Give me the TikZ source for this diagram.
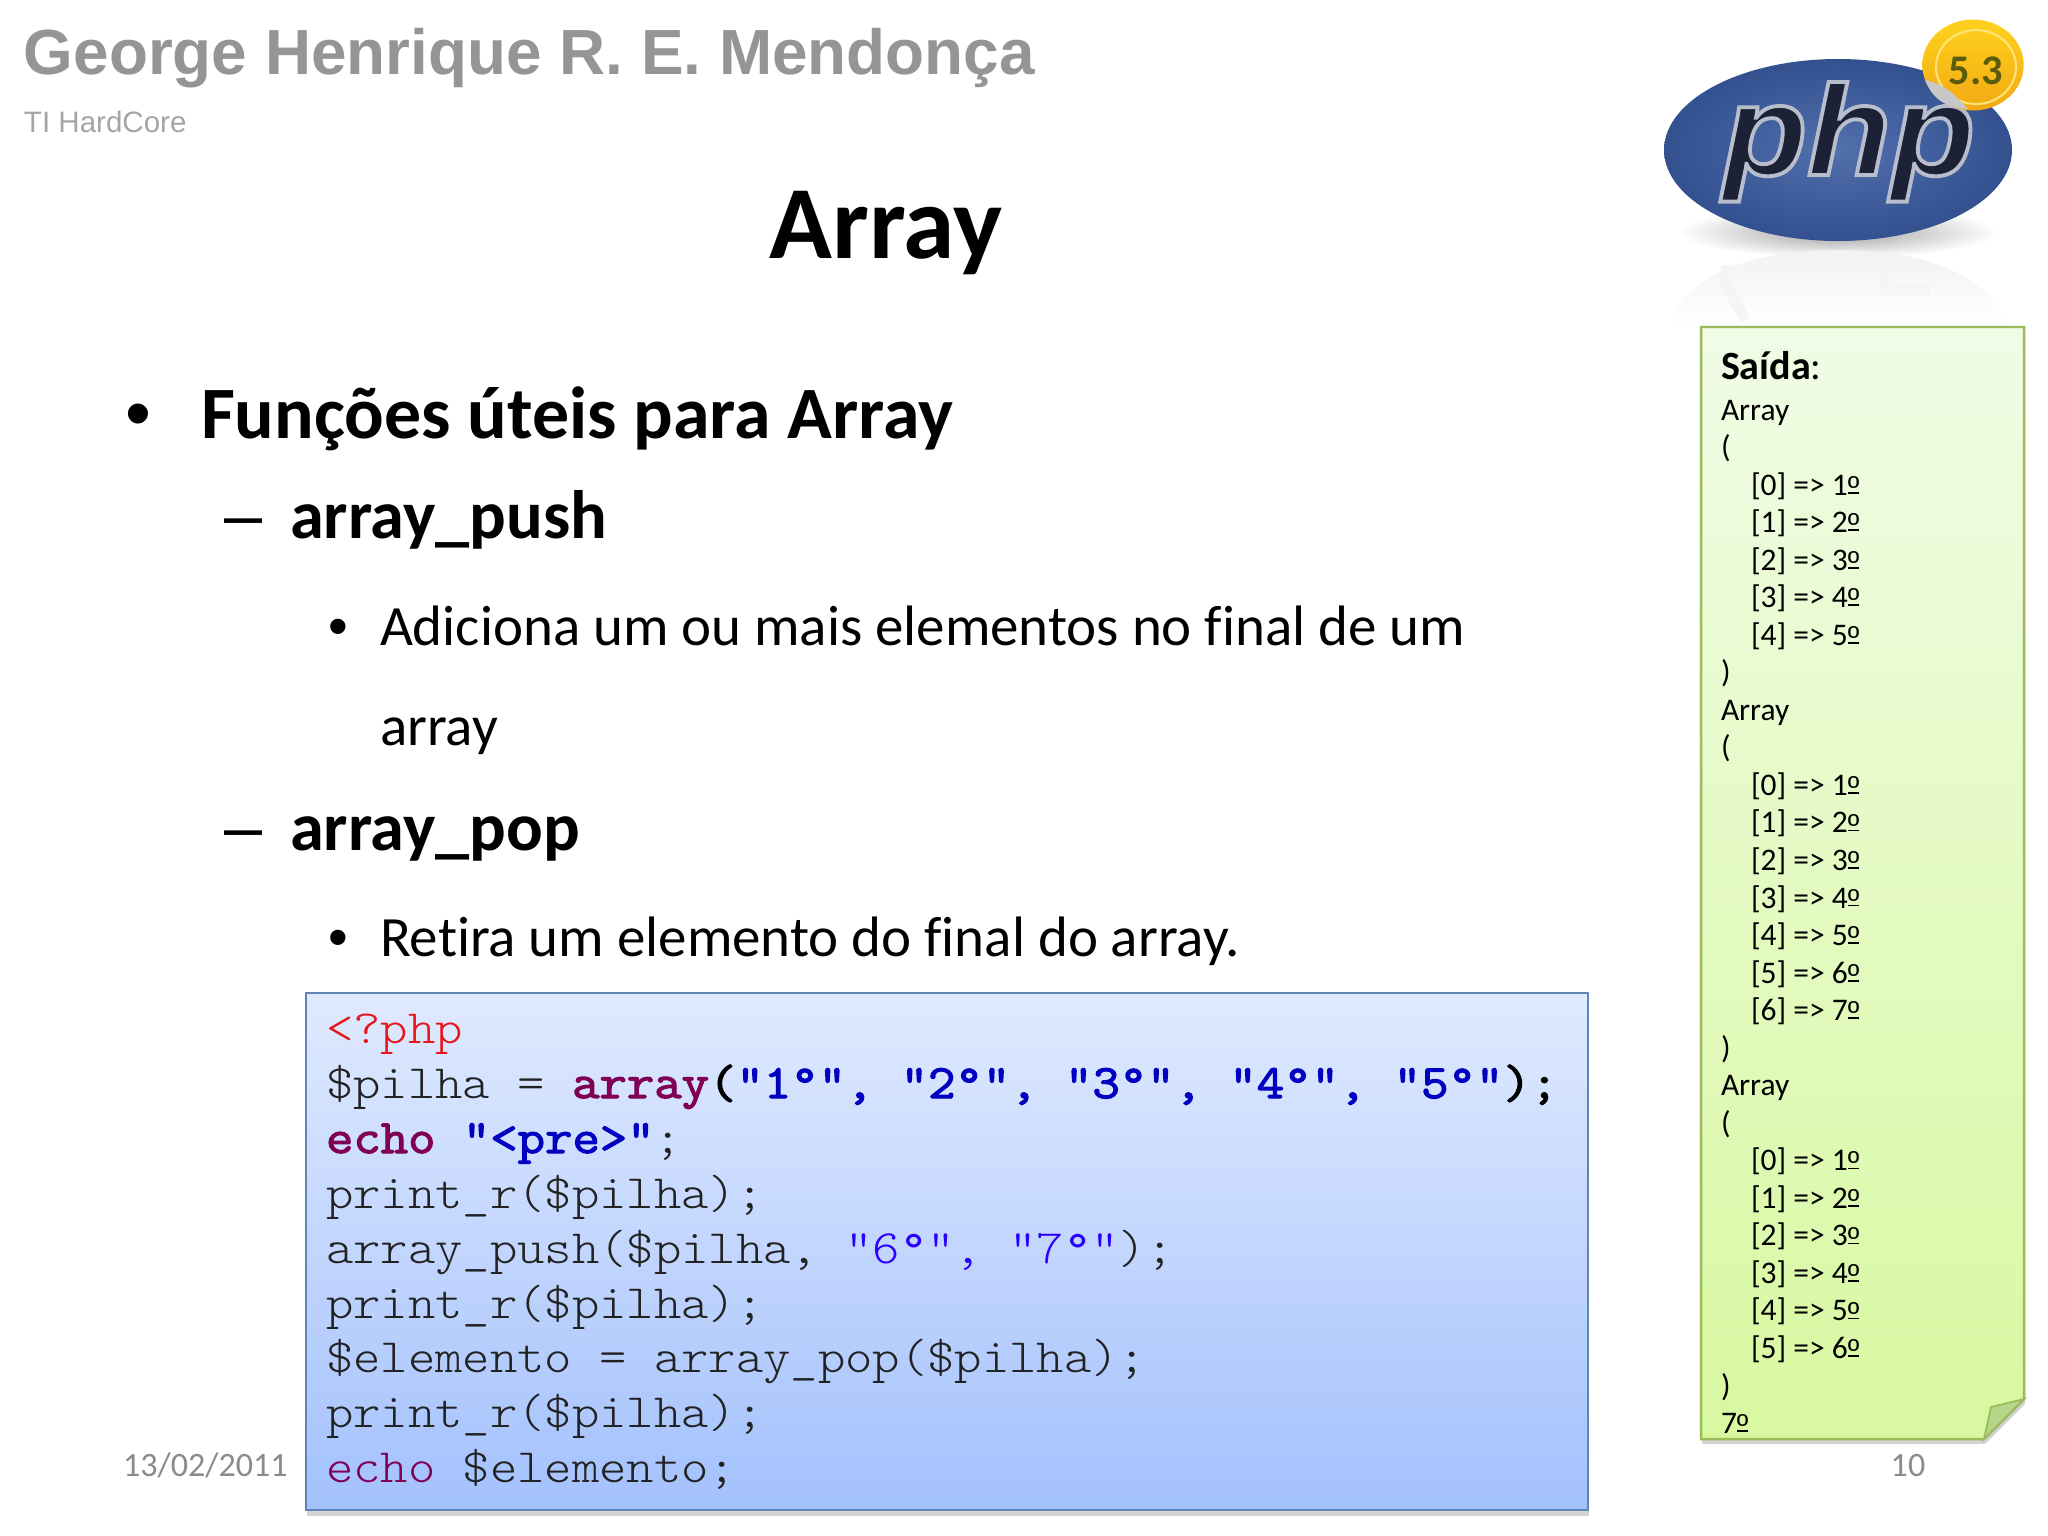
\documentclass[tikz,border=0pt]{standalone}
\usepackage{fontspec}
\usepackage{tikz}
\usetikzlibrary{shadows}
\setmainfont[Ligatures=NoCommon]{Carlito}
\newfontfamily\headfont{Liberation Sans}
\newfontfamily\codefont[FakeStretch=1.089,BoldFont={Latin Modern Mono},BoldFeatures={FakeBold=2.5,FakeStretch=1.112}]{Latin Modern Mono Light}
\newfontfamily\degfont[FakeStretch=1.11]{Latin Modern Mono}
\newfontfamily\phpfont[BoldItalicFeatures={FakeBold=3},FakeStretch=1.07]{Liberation Sans}
\newcommand{\ordmark}{\leavevmode\rlap{\rule[0.05em]{0.36em}{0.055em}}\raisebox{-0.1em}{\headfont º}}
\definecolor{headgray}{HTML}{959595}
\definecolor{footgray}{HTML}{8B8B8B}
\definecolor{codeline}{HTML}{222222}
\definecolor{codekey}{HTML}{7F0055}
\definecolor{codestr}{HTML}{0000C0}
\definecolor{codereg}{HTML}{2A00FF}
\definecolor{codered}{HTML}{E8141C}
\definecolor{codetop}{HTML}{E0EAFE}
\definecolor{codebot}{HTML}{A3C1FD}
\definecolor{codeedge}{HTML}{5F86B8}
\definecolor{notetop}{HTML}{F0FCE6}
\definecolor{notebot}{HTML}{D8F8A0}
\definecolor{noteedge}{HTML}{9BBB59}
\definecolor{notefold}{HTML}{B5D68A}
\definecolor{logoin}{HTML}{5270AC}
\definecolor{logoout}{HTML}{33508F}
\definecolor{logotxt}{HTML}{1C2135}
\definecolor{badgetop}{HTML}{FFD21E}
\definecolor{badgebot}{HTML}{F2A912}
\definecolor{badgetxt}{HTML}{5B5B0C}
\tikzset{
    basetext/.style={anchor=base west, inner sep=0pt, outer sep=0pt},
    bodyone/.style={basetext, font=\fontsize{21}{25}\selectfont\bfseries},
    bodytwo/.style={basetext, font=\fontsize{19.45}{23}\selectfont\bfseries},
    bodythree/.style={basetext, font=\fontsize{16.2}{20}\selectfont},
    bodydot/.style={basetext, font=\fontsize{16}{20}\selectfont\headfont},
    bodydash/.style={basetext, font=\fontsize{19.45}{23}\selectfont\headfont},
    codetext/.style={basetext, font=\fontsize{13.6}{16}\selectfont\codefont, color=codeline},
    notetext/.style={basetext, font=\fontsize{8.95}{11}\selectfont},
    foottext/.style={basetext, font=\fontsize{9.7}{12}\selectfont, color=footgray}
}
\begin{document}
\begin{tikzpicture}[x=0.01cm,y=-0.01cm]
    \useasboundingbox (0,0) rectangle (2048,1536);

    % Header
    \node[basetext, font=\fontsize{18.15}{22}\selectfont\headfont\bfseries, color=headgray] (author) at (24,74) {George Henrique R. E. Mendonça};
    \node[basetext, font=\fontsize{8.4}{11}\selectfont\headfont, color=headgray!85] (blog) at (24,132) {TI HardCore};
    \node[anchor=base, inner sep=0pt, font=\fontsize{29.5}{34}\selectfont\bfseries] (title) at (886,258) {Array};

    % Logo
    \shade[inner color=black!38, outer color=white] (1838,232) ellipse (160 and 26);
    \shade[top color=black!5, bottom color=white] (1668,325) .. controls (1690,270) and (1760,250) .. (1838,250) .. controls (1916,250) and (1985,270) .. (2008,325) -- cycle;
    \draw[black!4, line width=3pt] (1726,265) -- (1726,285) -- (1745,320);
    \draw[black!4, line width=3pt] (1885,265) -- (1885,290) -- (1930,290);
    \shade[inner color=logoin, outer color=logoout] (1838,150) ellipse (174 and 91);
    \node[anchor=base, inner sep=0pt, text=logotxt, font=\fontsize{36.5}{40}\selectfont\phpfont\bfseries\itshape] (logo) at (1849,175) {\special{pdf:code 0.72 0.74 0.80 RG}php};

    % Badge
    \shade[top color=badgetop, bottom color=badgebot] (1973,65) ellipse (50.7 and 45.5);
    \draw[badgetop!60!white, line width=0.6pt] (1976,67) ellipse (40 and 37);
    \fill[black!22] (1925,80) .. controls (1945,84) and (1955,95) .. (1968,109) .. controls (1945,108) and (1932,98) .. cycle;
    \node[anchor=base, inner sep=0pt, text=badgetxt, font=\fontsize{12}{13}\selectfont\bfseries] (badge) at (1976,84) {5.3};

    % Bullets
    \node[basetext, font=\fontsize{21}{25}\selectfont\headfont] (dotone) at (125,438) {•};
    \node[bodyone] (itemone) at (201,438) {Funções úteis para Array};
    \node[bodydash] (dashone) at (224,538) {–};
    \node[bodytwo] (itempush) at (290,538) {array\_push};
    \node[bodydot] (dotpush) at (328,645) {•};
    \node[bodythree] (textpush) at (380,645) {Adiciona um ou mais elementos no final de um};
    \node[bodythree] (textpushb) at (380,745) {array};
    \node[bodydash] (dashtwo) at (224,850) {–};
    \node[bodytwo] (itempop) at (290,850) {array\_pop};
    \node[bodydot] (dotpop) at (328,956) {•};
    \node[bodythree] (textpop) at (380,956) {Retira um elemento do final do array.};

    % Code box
    \draw[codeedge, line width=0.7pt, top color=codetop, bottom color=codebot, drop shadow={shadow xshift=0.3pt, shadow yshift=-1.6pt, opacity=0.35}] (306,993) rectangle (1588,1510);
    \node[codetext, color=codered] (codea) at (326,1043) {<?php};
    \node[codetext] (codeb) at (326,1098) {\$pilha = {\bfseries\color{codekey}array\color{black}(\color{codestr}"1°", "2°", "3°", "4°", "5°"\color{black});}};
    \node[codetext] (codec) at (326,1153) {{\bfseries\color{codekey}echo} {\bfseries\color{codestr}"<pre>"};};
    \node[codetext] (coded) at (326,1208) {print\_r(\$pilha);};
    \node[codetext] (codee) at (326,1263) {array\_push(\$pilha, {\color{codereg}"6{\degfont°}", "7{\degfont°}"});};
    \node[codetext] (codef) at (326,1318) {print\_r(\$pilha);};
    \node[codetext] (codeg) at (326,1372) {\$elemento = array\_pop(\$pilha);};
    \node[codetext] (codeh) at (326,1427) {print\_r(\$pilha);};
    \node[codetext] (codei) at (326,1482) {{\color{codekey}echo} \$elemento;};

    % Note
    \draw[noteedge, line width=0.7pt, top color=notetop, bottom color=notebot, drop shadow={shadow xshift=0.3pt, shadow yshift=-1.4pt, opacity=0.35}] (1701,327) -- (2024,327) -- (2024,1399) -- (1984,1439) -- (1701,1439) -- cycle;
    \draw[noteedge, line width=0.5pt, fill=notefold] (2024,1399) -- (1991,1407) -- (1984,1439) -- cycle;
    \node[basetext, font=\fontsize{11.4}{13}\selectfont] (notehead) at (1721,379) {\textbf{Saída}:};
    \foreach \n/\y/\txt in {1/0/Array, 2/1/(, 8/7/), 9/8/Array, 10/9/(, 18/17/), 19/18/Array, 20/19/(, 27/26/), 28/27/7\ordmark}
        \node[notetext] (note\n) at (1721,420+\y*37.54) {\txt};
    \foreach \n/\y/\i/\v in {3/2/0/1, 4/3/1/2, 5/4/2/3, 6/5/3/4, 7/6/4/5,
        11/10/0/1, 12/11/1/2, 13/12/2/3, 14/13/3/4, 15/14/4/5, 16/15/5/6, 17/16/6/7,
        21/20/0/1, 22/21/1/2, 23/22/2/3, 24/23/3/4, 25/24/4/5, 26/25/5/6}
        \node[notetext] (note\n) at (1751,420+\y*37.54) {[\i] => \v\ordmark};

    % Footer
    \node[foottext] (footdate) at (123,1476) {13/02/2011};
    \node[foottext, anchor=base] (footpage) at (1908,1476) {10};
\end{tikzpicture}
\end{document}
